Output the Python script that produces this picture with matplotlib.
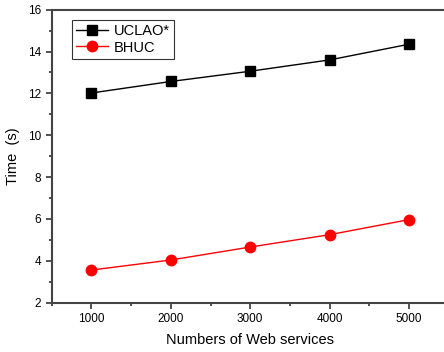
import matplotlib
matplotlib.use("Agg")
import matplotlib.pyplot as plt
from matplotlib.ticker import MultipleLocator

plt.rcParams['font.family'] = ['Liberation Sans', 'DejaVu Sans']

x = [1000, 2000, 3000, 4000, 5000]
uclao = [12.02, 12.57, 13.06, 13.60, 14.35]
bhuc = [3.56, 4.04, 4.66, 5.25, 5.97]

W, H = 444, 352
fig = plt.figure(figsize=(W/100, H/100), dpi=100)
left, right, top, bottom = 51.7, 448.7, 9.7, 302.7
ax = fig.add_axes([left/W, 1 - bottom/H, (right-left)/W, (bottom-top)/H])

ax.plot(x, uclao, color='black', marker='s', markersize=6.5, linewidth=1, label='UCLAO*')
ax.plot(x, bhuc, color='red', marker='o', markersize=7.5, linewidth=1, label='BHUC')

ax.set_xlim(500, 5500)
ax.set_ylim(2, 16)
ax.xaxis.set_major_locator(MultipleLocator(1000))
ax.xaxis.set_minor_locator(MultipleLocator(500))
ax.yaxis.set_major_locator(MultipleLocator(2))
ax.yaxis.set_minor_locator(MultipleLocator(1))
ax.tick_params(which='major', direction='out', length=4, width=1.2, labelsize=8.5, color='#333333')
ax.tick_params(which='minor', direction='out', length=2, width=1.2, color='#333333')
for s in ax.spines.values():
    s.set_linewidth(1.5)
    s.set_color('#444444')
ax.spines['right'].set_visible(False)

ax.set_xlabel('Numbers of Web services', fontsize=10.5, labelpad=6)
ax.set_ylabel('Time  (s)', fontsize=10.5, labelpad=6)

leg = ax.legend(loc='upper left', bbox_to_anchor=(0.05, 0.965), fontsize=10.5, frameon=True,
                fancybox=False, edgecolor='black', handlelength=2.2, borderpad=0.3,
                labelspacing=0.15, handletextpad=0.4, borderaxespad=0)
leg.get_frame().set_linewidth(0.8)

fig.savefig('out.png', dpi=100)
